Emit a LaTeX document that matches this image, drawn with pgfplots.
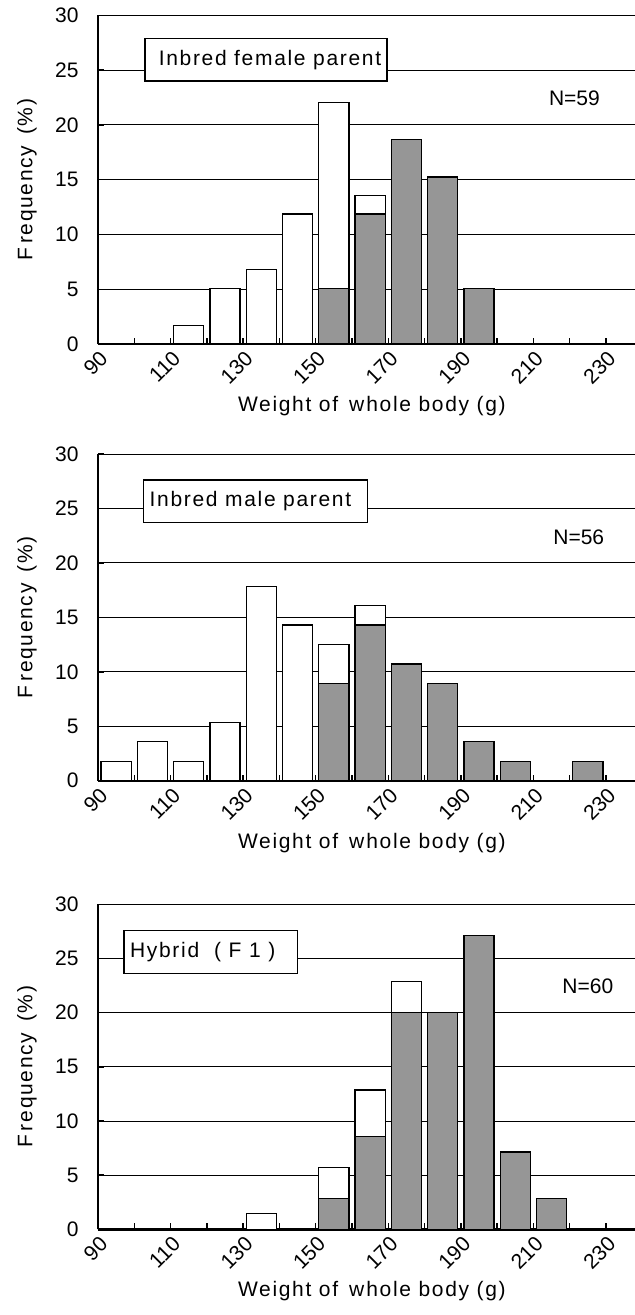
\documentclass[border=0pt]{standalone}
\usepackage{pgfplots}
\pgfplotsset{compat=1.18}
\usepackage{fontspec}
\setmainfont{Liberation Sans}
\newfontfamily\lbl[LetterSpace=8]{Liberation Sans}
\definecolor{barg}{RGB}{150,150,150}
\newcommand{\fs}{\fontsize{21bp}{24bp}\selectfont}

\pgfplotsset{
  panel/.style={
    scale only axis, width=537bp,
    anchor=south west,
    xmin=90, xmax=238, ymin=0, ymax=30,
    axis x line*=bottom, axis y line*=left,
    x axis line style={line width=2.4bp, -},
    y axis line style={line width=2bp, -},
    xtick={90,110,...,230}, minor xtick={100,120,...,220},
    ytick={0,5,...,30},
    ymajorgrids, grid style={black, line width=0.9bp},
    tick align=inside,
    major tick length=6bp, minor tick length=6bp,
    tick style={black, line width=1.4bp},
    /pgf/number format/assume math mode=true,
    ticklabel style={font=\fs},
    yticklabel style={xshift=-16bp},
    xticklabel style={xshift=6bp, yshift=-11bp, rotate=45, anchor=east, inner sep=0pt},
    every axis x label/.style={at={([yshift=-62bp]axis description cs:0.51,0)}, anchor=center, font=\lbl\fs},
    every axis y label/.style={at={([xshift=-71bp]axis description cs:0,0.5)}, rotate=90, anchor=center, font=\lbl\fs},
    xlabel={Weight of\ \,w\kern2bp hole body (g)},
    ylabel={F\kern4bp requency\ \,(\%)},
  },
  wbar/.style={ybar, bar width=8.3, bar shift=0pt, fill=white, draw=black, line width=1.3bp},
  gbar/.style={ybar, bar width=8.3, bar shift=0pt, fill=barg, draw=black, line width=1.3bp},
}

\begin{document}
\begin{tikzpicture}[x=1bp,y=1bp]
\path[use as bounding box] (0,0) rectangle (635,-1315);

% Panel 1
\begin{axis}[panel, height=328.7bp, at={(98bp,-344bp)}]
\addplot[wbar] coordinates {(115,1.69) (125,5.08) (135,6.78) (145,11.86) (155,22.03) (165,13.56)};
\addplot[gbar] coordinates {(155,5.08) (165,11.86) (175,18.64) (185,15.25) (195,5.08)};
\draw[line width=1.6bp] (rel axis cs:0,1) -- (rel axis cs:1,1);
\draw[fill=white, line width=1.4bp] (axis cs:102.9,27.9) rectangle (axis cs:169.6,24.0);
\node[anchor=west, font=\lbl\fs, inner sep=0pt] at (axis cs:106.7,25.95) {Inbred female parent};
\node[font=\fs] at (axis cs:221.3,22.4) {N=59};
\end{axis}

% Panel 2
\begin{axis}[panel, height=326.7bp, at={(98bp,-780.7bp)}]
\addplot[wbar] coordinates {(95,1.79) (105,3.57) (115,1.79) (125,5.36) (135,17.86) (145,14.29) (155,12.5) (165,16.07)};
\addplot[gbar] coordinates {(155,8.93) (165,14.29) (175,10.71) (185,8.93) (195,3.57) (205,1.79) (225,1.79)};
\draw[line width=1.6bp] (rel axis cs:0,1) -- (rel axis cs:1,1);
\draw[fill=white, line width=1.4bp] (axis cs:102.6,27.6) rectangle (axis cs:164.3,23.7);
\node[anchor=west, font=\lbl\fs, inner sep=0pt] at (axis cs:104.2,25.65) {Inbred male parent};
\node[font=\fs] at (axis cs:222.5,22.4) {N=56};
\end{axis}

% Panel 3
\begin{axis}[panel, height=325bp, at={(98bp,-1229.3bp)}]
\addplot[wbar] coordinates {(135,1.43) (155,5.71) (165,12.86) (175,22.86)};
\addplot[gbar] coordinates {(155,2.86) (165,8.57) (175,20.0) (185,20.0) (195,27.14) (205,7.14) (215,2.86)};
\draw[line width=1.6bp] (rel axis cs:0,1) -- (rel axis cs:1,1);
\draw[fill=white, line width=1.4bp] (axis cs:97.2,27.57) rectangle (axis cs:145.0,23.64);
\node[anchor=west, font=\lbl\fs, inner sep=0pt] at (axis cs:98.8,25.6) {Hybrid\ \ (\ F\ 1\ )};
\node[font=\fs] at (axis cs:225,22.4) {N=60};
\end{axis}
\end{tikzpicture}
\end{document}
